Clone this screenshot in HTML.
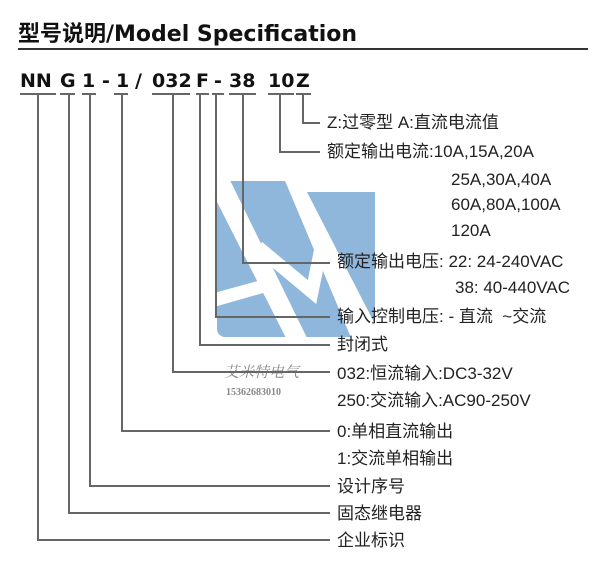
<!DOCTYPE html>
<html><head><meta charset="utf-8"><style>
body{margin:0;width:600px;height:570px;background:#fff;overflow:hidden;position:relative;font-family:"Liberation Sans","Noto Sans CJK SC",sans-serif}
.t{position:absolute;font-size:17px;color:#222;white-space:nowrap;line-height:20px}
</style></head><body>
<div style="position:absolute;left:18px;top:16px;font-size:22px;font-weight:bold;color:#111;font-family:'DejaVu Sans','Noto Sans CJK SC',sans-serif">型号说明/Model Specification</div>
<div style="position:absolute;left:18px;top:48px;width:570px;height:2px;background:#333"></div>
<svg width="600" height="570" style="position:absolute;left:0;top:0">
<rect x="217" y="181" width="158" height="156" rx="8" fill="#8fb6db"/>
<g fill="#fff">
<polygon points="214,176 228,176 308,340 287,340 214,196"/>
<polygon points="283,176 382,176 382,192 307,192 378,330 378,340 352,340"/>
<polygon points="214,293 265,279 270,291 214,307"/>
</g>
<polyline points="258,247 312,292 322,243" fill="none" stroke="#fff" stroke-width="13"/>
<text x="224" y="377" font-family="Liberation Serif,Noto Serif CJK SC,serif" font-size="15" font-style="italic" fill="#888">艾米特电气</text>
<text x="226" y="395" font-family="Liberation Serif,serif" font-size="10" font-weight="bold" fill="#888">15362683010</text>
<text font-family="DejaVu Sans,sans-serif" font-weight="bold" font-size="19" fill="#111" y="87">
<tspan x="20">NN</tspan><tspan x="60">G</tspan><tspan x="82">1</tspan><tspan x="102">-</tspan><tspan x="116">1</tspan><tspan x="135">/</tspan><tspan x="152">032</tspan><tspan x="196">F</tspan><tspan x="214">-</tspan><tspan x="229">38</tspan><tspan x="268">10</tspan><tspan x="296">Z</tspan>
</text>
<g stroke="#666" stroke-width="2" fill="none">
<path d="M20 94H56M60 94H75M82 94H96M114 94H128M152 94H190M196 94H209M212 94H224M229 94H256M268 94H294M296 94H311"/>
<path d="M38 94V540H330M69 94V513H330M90 94V486H330M122 94V431H330M173 94V372H330M200 94V345H330M216 94V317H330M243 94V263H330M280 94V152H320M303 94V123H320"/>
</g>
</svg>
<div class="t" style="left:327px;top:113px">Z:过零型 A:直流电流值</div>
<div class="t" style="left:327px;top:142px">额定输出电流:10A,15A,20A</div>
<div class="t" style="left:451px;top:170px">25A,30A,40A</div>
<div class="t" style="left:451px;top:195px">60A,80A,100A</div>
<div class="t" style="left:451px;top:221px">120A</div>
<div class="t" style="left:337px;top:252px">额定输出电压: 22: 24-240VAC</div>
<div class="t" style="left:455px;top:278px">38: 40-440VAC</div>
<div class="t" style="left:337px;top:307px">输入控制电压: - 直流 &nbsp;~交流</div>
<div class="t" style="left:337px;top:335px">封闭式</div>
<div class="t" style="left:337px;top:364px">032:恒流输入:DC3-32V</div>
<div class="t" style="left:337px;top:391px">250:交流输入:AC90-250V</div>
<div class="t" style="left:337px;top:422px">0:单相直流输出</div>
<div class="t" style="left:337px;top:449px">1:交流单相输出</div>
<div class="t" style="left:337px;top:477px">设计序号</div>
<div class="t" style="left:337px;top:504px">固态继电器</div>
<div class="t" style="left:337px;top:531px">企业标识</div>
</body></html>
